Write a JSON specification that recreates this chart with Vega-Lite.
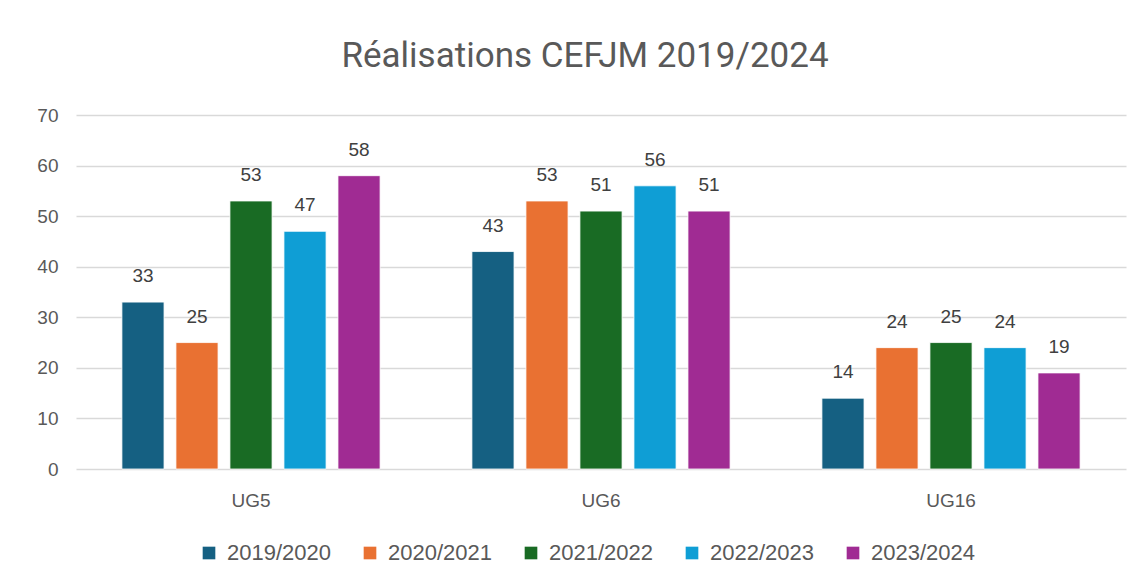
{
  "$schema": "https://vega.github.io/schema/vega-lite/v6.json",
  "autosize": {"type": "none"},
  "width": 1050,
  "height": 354,
  "padding": {"left": 76, "top": 115, "right": 15, "bottom": 114},
  "background": "white",
  "title": {
    "text": "Réalisations CEFJM 2019/2024",
    "font": "Roboto",
    "fontSize": 35,
    "fontWeight": "normal",
    "color": "#595959",
    "anchor": "middle",
    "dx": -16,
    "offset": 32
  },
  "data": {
    "values": [
      {"ug": "UG5", "annee": "2019/2020", "valeur": 33},
      {"ug": "UG5", "annee": "2020/2021", "valeur": 25},
      {"ug": "UG5", "annee": "2021/2022", "valeur": 53},
      {"ug": "UG5", "annee": "2022/2023", "valeur": 47},
      {"ug": "UG5", "annee": "2023/2024", "valeur": 58},
      {"ug": "UG6", "annee": "2019/2020", "valeur": 43},
      {"ug": "UG6", "annee": "2020/2021", "valeur": 53},
      {"ug": "UG6", "annee": "2021/2022", "valeur": 51},
      {"ug": "UG6", "annee": "2022/2023", "valeur": 56},
      {"ug": "UG6", "annee": "2023/2024", "valeur": 51},
      {"ug": "UG16", "annee": "2019/2020", "valeur": 14},
      {"ug": "UG16", "annee": "2020/2021", "valeur": 24},
      {"ug": "UG16", "annee": "2021/2022", "valeur": 25},
      {"ug": "UG16", "annee": "2022/2023", "valeur": 24},
      {"ug": "UG16", "annee": "2023/2024", "valeur": 19}
    ]
  },
  "encoding": {
    "x": {
      "field": "ug",
      "type": "nominal",
      "sort": ["UG5", "UG6", "UG16"],
      "scale": {"paddingInner": 0, "paddingOuter": 0},
      "axis": {
        "title": null,
        "labelAngle": 0,
        "ticks": false,
        "domain": false,
        "labelFontSize": 19,
        "labelColor": "#595959",
        "labelFont": "Liberation Sans",
        "labelPadding": 22
      }
    },
    "xOffset": {
      "field": "annee",
      "type": "nominal",
      "scale": {"paddingInner": 0.22, "paddingOuter": 0.85}
    },
    "y": {
      "field": "valeur",
      "type": "quantitative",
      "scale": {"domain": [0, 70], "nice": false},
      "axis": {
        "title": null,
        "values": [0, 10, 20, 30, 40, 50, 60, 70],
        "ticks": false,
        "domain": false,
        "grid": true,
        "gridColor": "#d9d9d9",
        "gridWidth": 1.5,
        "labelFontSize": 19,
        "labelColor": "#595959",
        "labelFont": "Liberation Sans",
        "labelPadding": 18
      }
    }
  },
  "layer": [
    {
      "mark": {"type": "bar", "stroke": "white", "strokeWidth": 0.8},
      "encoding": {
        "color": {
          "field": "annee",
          "type": "nominal",
          "scale": {
            "domain": ["2019/2020", "2020/2021", "2021/2022", "2022/2023", "2023/2024"],
            "range": ["#156082", "#E97132", "#196B24", "#0F9ED5", "#A02B93"]
          },
          "legend": {
            "title": null,
            "orient": "none",
            "legendX": 122,
            "legendY": 427,
            "direction": "horizontal",
            "columns": 5,
            "symbolType": "square",
            "symbolSize": 160,
            "symbolStrokeWidth": 0,
            "labelFontSize": 22,
            "labelFont": "Liberation Sans",
            "labelColor": "#595959",
            "labelOffset": 7,
            "columnPadding": 28
          }
        }
      }
    },
    {
      "mark": {"type": "text", "baseline": "alphabetic", "dy": -20, "fontSize": 19, "font": "Liberation Sans", "color": "#404040"},
      "encoding": {
        "text": {"field": "valeur", "type": "quantitative"}
      }
    }
  ],
  "config": {
    "view": {"stroke": null}
  }
}
